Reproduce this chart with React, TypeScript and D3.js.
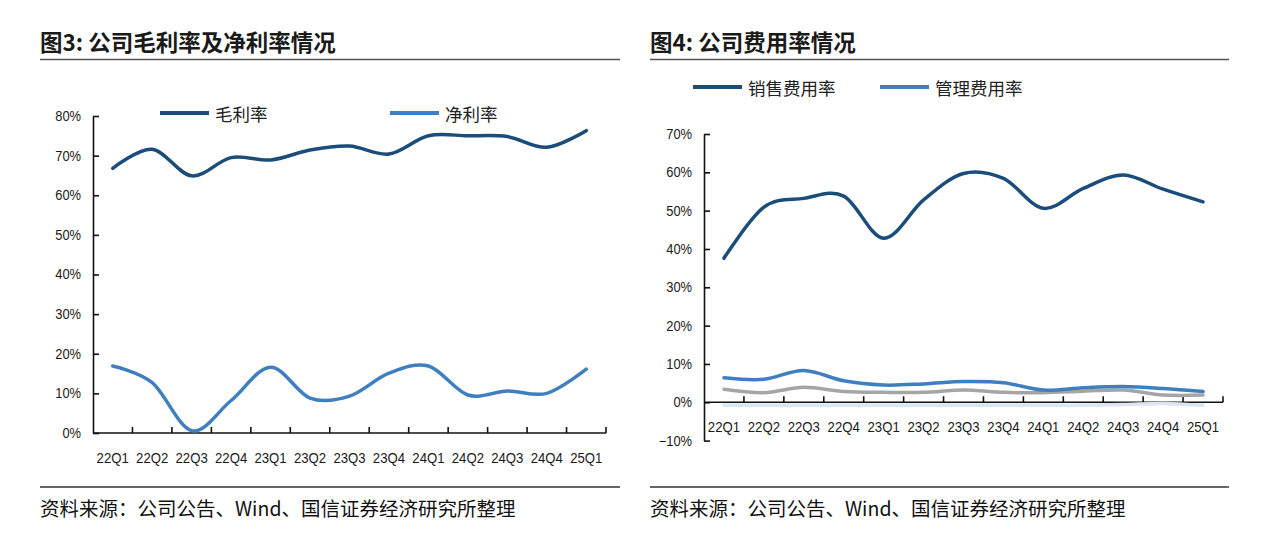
import React, { useEffect, useRef } from 'react';
import * as d3 from 'd3';

const quarters = ['22Q1', '22Q2', '22Q3', '22Q4', '23Q1', '23Q2', '23Q3', '23Q4', '24Q1', '24Q2', '24Q3', '24Q4', '25Q1'];

const grossMargin = [66.8, 71.6, 64.9, 69.5, 68.9, 71.4, 72.4, 70.4, 75.0, 75.0, 74.8, 72.1, 76.3];
const netMargin = [16.9, 12.7, 0.6, 8.2, 16.6, 8.8, 9.3, 15.1, 16.9, 9.6, 10.6, 10.0, 16.1];

const salesExpense = [37.6, 50.9, 53.2, 53.8, 42.8, 52.8, 59.7, 58.4, 50.6, 55.8, 59.3, 55.6, 52.3];
const adminExpense = [6.4, 6.0, 8.3, 5.6, 4.5, 4.8, 5.4, 5.1, 3.2, 3.8, 4.1, 3.6, 2.8];
const rdExpense = [3.4, 2.5, 3.9, 2.8, 2.6, 2.6, 3.2, 2.6, 2.5, 2.9, 3.2, 1.9, 1.9];
const financeExpense = [-0.8, -0.8, -0.8, -0.8, -0.8, -0.8, -0.8, -0.8, -0.8, -0.8, -0.6, -0.3, -0.8];

const leftTicks = [0, 10, 20, 30, 40, 50, 60, 70, 80];
const rightTicks = [-10, 0, 10, 20, 30, 40, 50, 60, 70];

const leftTitle = '图3: 公司毛利率及净利率情况';
const rightTitle = '图4: 公司费用率情况';
const sourceText = '资料来源：公司公告、Wind、国信证券经济研究所整理';

const DARK = '#1a4d7a';
const MID = '#3f7fc0';
const GREY = '#a5a5a5';
const LIGHT = '#dbe5f3';
const CJK = '"Noto Sans CJK SC", "Noto Sans", sans-serif';
const LATIN = '"Liberation Sans", Arial, sans-serif';

type Series = { name: string; values: number[]; color: string; legendX?: number };

function condense(sel: d3.Selection<any, any, any, any>, factor: number) {
  sel.each(function () {
    const node = this as SVGTextElement;
    const len = node.getComputedTextLength();
    if (len > 0) {
      node.setAttribute('textLength', String(len * factor));
      node.setAttribute('lengthAdjust', 'spacingAndGlyphs');
    }
  });
}

function drawPanel(
  g: d3.Selection<SVGGElement, unknown, null, undefined>,
  opts: {
    left: number;
    right: number;
    title: string;
    xRange: [number, number];
    yDomain: [number, number];
    yRange: [number, number];
    ticks: number[];
    labelY: number;
    series: Series[];
    legendY: number;
  }
) {
  const x = d3.scaleBand<string>().domain(quarters).range(opts.xRange);
  const y = d3.scaleLinear().domain(opts.yDomain).range(opts.yRange);

  // title
  g.append('text')
    .attr('x', opts.left)
    .attr('y', 51)
    .attr('font-family', CJK)
    .attr('font-size', 22.5)
    .attr('font-weight', 'bold')
    .attr('fill', '#1a1a1a')
    .text(opts.title);
  g.append('line')
    .attr('x1', opts.left).attr('x2', opts.right)
    .attr('y1', 59.5).attr('y2', 59.5)
    .attr('stroke', '#555').attr('stroke-width', 1.6);

  // footer
  g.append('line')
    .attr('x1', opts.left).attr('x2', opts.right)
    .attr('y1', 487).attr('y2', 487)
    .attr('stroke', '#333').attr('stroke-width', 1.3);
  g.append('text')
    .attr('x', opts.left)
    .attr('y', 516)
    .attr('font-family', CJK)
    .attr('font-size', 19.5)
    .attr('fill', '#111')
    .text(sourceText);

  const line = d3
    .line<number>()
    .x((_, i) => (x(quarters[i]) as number) + x.bandwidth() / 2)
    .y((d) => y(d))
    .curve(d3.curveCardinal.tension(0));

  // y axis
  const yAxis = d3
    .axisLeft(y)
    .tickValues(opts.ticks)
    .tickSizeInner(-6)
    .tickSizeOuter(0)
    .tickPadding(12)
    .tickFormat((d) => `${d}%`.replace('-', '−'));
  const ya = g.append('g').attr('transform', `translate(${opts.xRange[0]},0)`).call(yAxis);
  ya.select('.domain').attr('stroke', '#111').attr('stroke-width', 1.6);
  ya.selectAll('.tick line').attr('stroke', '#111').attr('stroke-width', 1.6);
  const yt = ya
    .selectAll('.tick text')
    .attr('font-family', LATIN)
    .attr('font-size', 14)
    .attr('fill', '#1a1a1a');
  condense(yt, 0.92);

  // x axis at zero
  const y0 = y(0);
  g.append('line')
    .attr('x1', opts.xRange[0]).attr('x2', opts.xRange[1])
    .attr('y1', y0).attr('y2', y0)
    .attr('stroke', '#111').attr('stroke-width', 1.6);
  g.selectAll('.xtick')
    .data(quarters)
    .enter()
    .append('line')
    .attr('x1', (d) => (x(d) as number) + x.step())
    .attr('x2', (d) => (x(d) as number) + x.step())
    .attr('y1', y0)
    .attr('y2', y0 - 6)
    .attr('stroke', '#111')
    .attr('stroke-width', 1.6);
  const xt = g
    .selectAll('.xlabel')
    .data(quarters)
    .enter()
    .append('text')
    .attr('x', (d) => (x(d) as number) + x.bandwidth() / 2)
    .attr('y', opts.labelY)
    .attr('text-anchor', 'middle')
    .attr('dominant-baseline', 'central')
    .attr('font-family', LATIN)
    .attr('font-size', 15.5)
    .attr('fill', '#1a1a1a')
    .text((d) => d);
  condense(xt, 0.85);

  // series
  opts.series.forEach((s) => {
    g.append('path')
      .attr('d', line(s.values) as string)
      .attr('fill', 'none')
      .attr('stroke', s.color)
      .attr('stroke-width', 3.5)
      .attr('stroke-linecap', 'round');
  });

  // legend
  opts.series
    .filter((s) => s.legendX !== undefined)
    .forEach((s) => {
      const lx = s.legendX as number;
      g.append('line')
        .attr('x1', lx).attr('x2', lx + 49)
        .attr('y1', opts.legendY).attr('y2', opts.legendY)
        .attr('stroke', s.color)
        .attr('stroke-width', 4);
      g.append('text')
        .attr('x', lx + 55)
        .attr('y', opts.legendY)
        .attr('dominant-baseline', 'central')
        .attr('font-family', CJK)
        .attr('font-size', 17.5)
        .attr('fill', '#222')
        .text(s.name);
    });
}

export default function App() {
  const ref = useRef<SVGSVGElement>(null);

  useEffect(() => {
    if (!ref.current) return;
    const svg = d3.select(ref.current);
    svg.selectAll('*').remove();
    svg.append('rect').attr('width', 1269).attr('height', 534).attr('fill', '#fff');

    drawPanel(svg.append('g'), {
      left: 40,
      right: 620,
      title: leftTitle,
      xRange: [93, 606],
      yDomain: [0, 80],
      yRange: [433, 116],
      ticks: leftTicks,
      labelY: 457,
      legendY: 113,
      series: [
        { name: '毛利率', values: grossMargin, color: DARK, legendX: 160 },
        { name: '净利率', values: netMargin, color: MID, legendX: 390 },
      ],
    });

    drawPanel(svg.append('g'), {
      left: 650,
      right: 1229,
      title: rightTitle,
      xRange: [704, 1223],
      yDomain: [-10, 70],
      yRange: [440.6, 134],
      ticks: rightTicks,
      labelY: 426,
      legendY: 87,
      series: [
        { name: '财务费用率', values: financeExpense, color: LIGHT },
        { name: '研发费用率', values: rdExpense, color: GREY },
        { name: '管理费用率', values: adminExpense, color: MID, legendX: 880 },
        { name: '销售费用率', values: salesExpense, color: DARK, legendX: 693 },
      ],
    });
  }, []);

  return (
    <svg
      ref={ref}
      width={1269}
      height={534}
      style={{ position: 'absolute', left: 0, top: 0, display: 'block' }}
    />
  );
}
